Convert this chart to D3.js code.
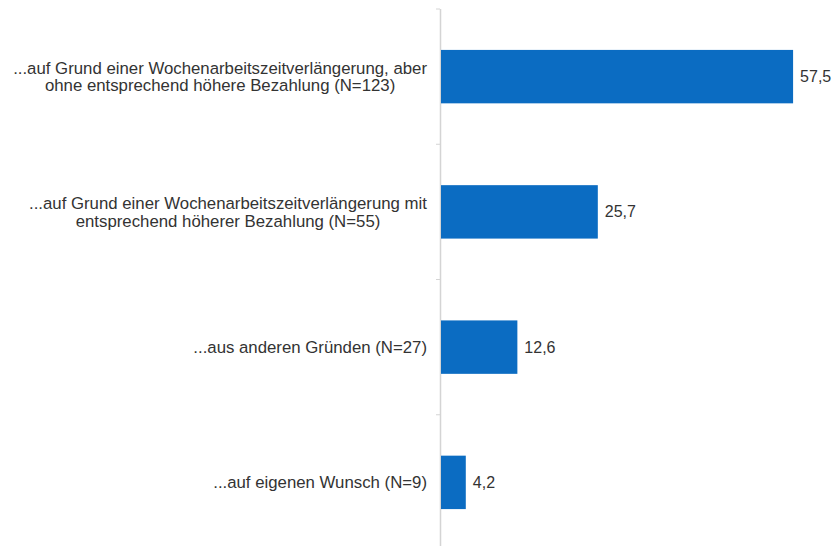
<!DOCTYPE html>
<html>
<head>
<meta charset="utf-8">
<script src="https://cdn.jsdelivr.net/npm/d3@7"></script>
<style>
  body { margin: 0; background: #fff; }
  text { font-family: "Liberation Sans", Arial, sans-serif; fill: #333; }
</style>
</head>
<body>
<div id="chart"></div>
<script>
// categories, each line of a label as its own entry
let categories = [
  ['...auf Grund einer Wochenarbeitszeitverlängerung, aber', 'ohne entsprechend höhere Bezahlung (N=123)'],
  ['...auf Grund einer Wochenarbeitszeitverlängerung mit', 'entsprechend höherer Bezahlung (N=55)'],
  ['...aus anderen Gründen (N=27)'],
  ['...auf eigenen Wunsch (N=9)']
];
let values = [57.5, 25.7, 12.6, 4.2];
let valueLabels = ['57,5', '25,7', '12,6', '4,2'];

let width = 837;
let height = 546;
let margin = {top: 9, right: 4, left: 440};
let bandsH = 541;

let data = values.map((v, i) => ({key: 'c' + i, lines: categories[i], value: v, label: valueLabels[i]}));

let xScale = d3.scaleLinear()
  .domain([0, 64])
  .range([0, width - margin.left - margin.right]);

let yScale = d3.scaleBand()
  .domain(data.map(d => d.key))
  .range([0, bandsH])
  .paddingInner(0.605)
  .paddingOuter(0.3025);

let svg = d3.select('#chart')
  .append('svg')
  .attr('width', width)
  .attr('height', height)
  .append('g')
  .attr('transform', 'translate(' + margin.left + ',' + margin.top + ')');

let step = yScale.step();

// axis line and tick marks between categories
svg.append('line')
  .attr('x1', 0.5).attr('x2', 0.5)
  .attr('y1', 0).attr('y2', height)
  .attr('stroke', '#d4d4d4')
  .attr('stroke-width', 1.5);

let tickYs = data.map(d => yScale(d.key) - step * yScale.paddingOuter());
svg.selectAll('.tick')
  .data(tickYs)
  .enter()
  .append('line')
  .attr('class', 'tick')
  .attr('x1', -4).attr('x2', 0)
  .attr('y1', d => d).attr('y2', d => d)
  .attr('stroke', '#d4d4d4');

svg.selectAll('rect.bar')
  .data(data)
  .enter()
  .append('rect')
  .attr('class', 'bar')
  .attr('x', 1)
  .attr('y', d => yScale(d.key))
  .attr('height', yScale.bandwidth())
  .attr('width', d => xScale(d.value) - 1)
  .attr('fill', '#0b6cc2');

svg.selectAll('text.value')
  .data(data)
  .enter()
  .append('text')
  .attr('class', 'value')
  .attr('x', d => xScale(d.value) + 7)
  .attr('y', d => yScale(d.key) + yScale.bandwidth() / 2)
  .attr('dy', '0.35em')
  .style('font-size', '16px')
  .text(d => d.label);

// category labels: lines centred to each other, block right-aligned
let lineH = 17.5;
let labels = svg.selectAll('g.label')
  .data(data)
  .enter()
  .append('g')
  .attr('class', 'label');

labels.each(function(d) {
  let g = d3.select(this);
  let cy = yScale(d.key) + yScale.bandwidth() / 2;
  let n = d.lines.length;
  let texts = g.selectAll('text')
    .data(d.lines)
    .enter()
    .append('text')
    .attr('text-anchor', 'middle')
    .attr('y', (l, i) => cy + (i - (n - 1) / 2) * lineH)
    .attr('dy', '0.35em')
    .style('font-size', '16.8px')
    .text(l => l);
  let maxW = d3.max(texts.nodes(), t => t.getComputedTextLength());
  texts.attr('x', -13 - maxW / 2);
});
</script>
</body>
</html>
